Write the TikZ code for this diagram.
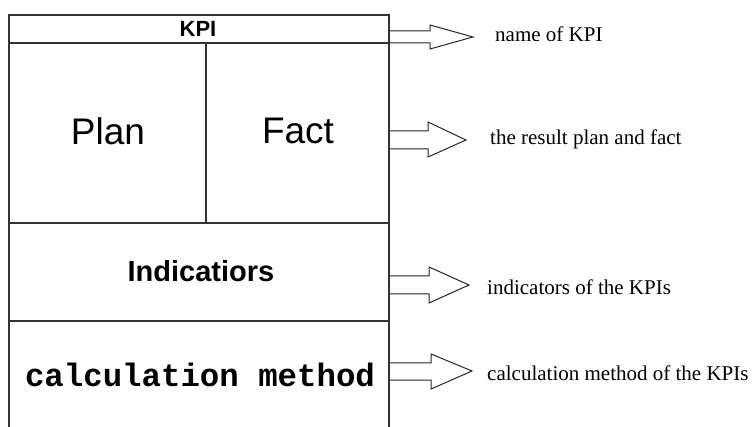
\documentclass[tikz,border=0pt]{standalone}
\usepackage{fontspec}
\setmainfont{Liberation Serif}
\newfontfamily\arialf{Liberation Sans}
\newfontfamily\courf{Liberation Mono}
\begin{document}
\begin{tikzpicture}[x=1pt,y=-1pt,
  boxline/.style={draw=black!80, line width=1.4pt},
  blockarrow/.style={draw=black!85, line width=1pt, fill=white, line join=miter},
  lbl/.style={anchor=west, inner sep=0pt, font=\fontsize{21}{24}\selectfont}]
\useasboundingbox (0,0) rectangle (752,427);
% frame
\draw[boxline] (9,427) -- (9,15) -- (389,15) -- (389,427);
\draw[boxline] (9,43) -- (389,43);
\draw[boxline] (206,43) -- (206,223);
\draw[boxline] (9,223) -- (389,223);
\draw[boxline] (9,321) -- (389,321);
% box texts
\node[inner sep=0pt, font=\arialf\bfseries\fontsize{22}{26}\selectfont] (kpi) at (198,29) {KPI};
\node[inner sep=0pt, font=\arialf\fontsize{37}{42}\selectfont] (plan) at (108,131) {Plan};
\node[inner sep=0pt, font=\arialf\fontsize{37}{42}\selectfont] (fact) at (298,131) {Fact};
\node[inner sep=0pt, font=\arialf\bfseries\fontsize{29}{34}\selectfont] (ind) at (201,271) {Indicatiors};
\node[inner sep=0pt, font=\courf\bfseries\fontsize{32.4}{36}\selectfont] (calc) at (200,375) {calculation method};
% block arrows
\draw[blockarrow] (389,31) -- (430,31) -- (430,25) -- (473,37) -- (430,49) -- (430,43) -- (389,43) -- cycle;
\draw[blockarrow] (389,131) -- (428,131) -- (428,122) -- (466,140) -- (428,157) -- (428,149) -- (389,149) -- cycle;
\draw[blockarrow] (389,276) -- (429,276) -- (429,267) -- (469,285) -- (429,303) -- (429,294) -- (389,294) -- cycle;
\draw[blockarrow] (389,363) -- (431,363) -- (431,354) -- (472,371) -- (431,389) -- (431,380) -- (389,380) -- cycle;
\draw[boxline] (389,15) -- (389,427);
% labels
\node[lbl] (l1) at (495,34) {name of KPI};
\node[lbl] (l2) at (490,139) {the result plan and fact};
\node[lbl] (l3) at (487,287) {indicators of the KPIs};
\node[lbl] (l4) at (487,373) {calculation method of the KPIs};
\end{tikzpicture}
\end{document}
